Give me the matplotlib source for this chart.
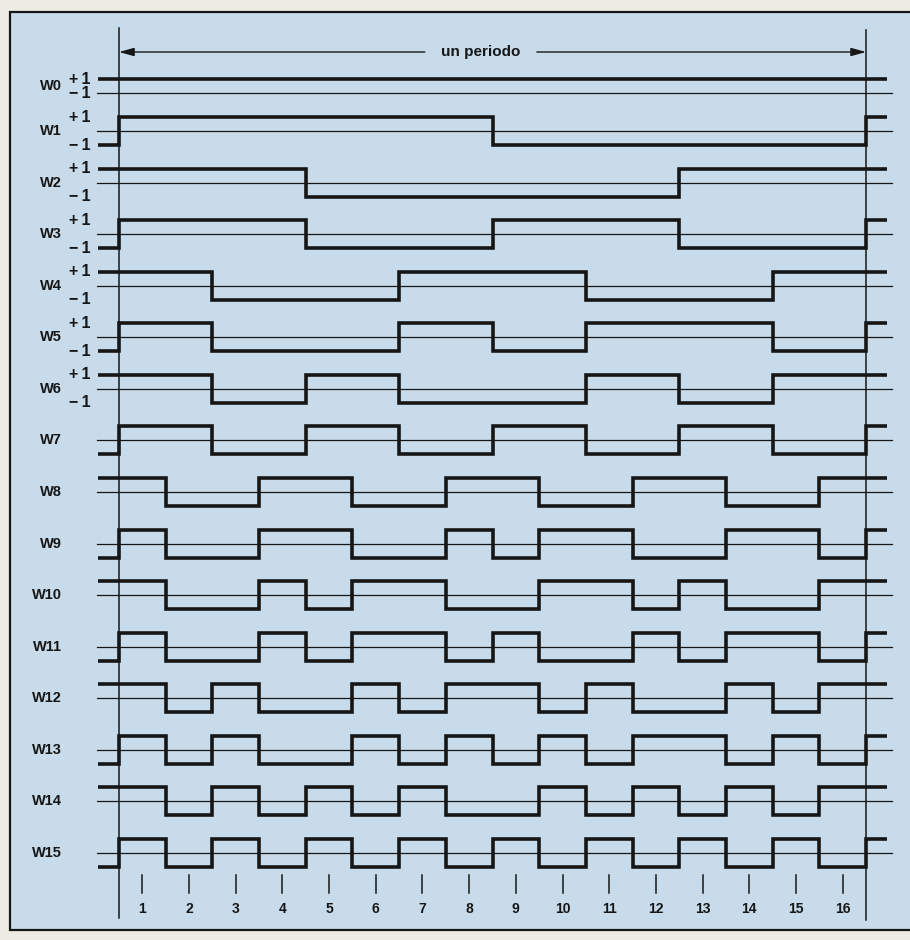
import matplotlib
matplotlib.use("Agg")
import matplotlib.pyplot as plt
from matplotlib.patches import Rectangle

plt.rcParams['font.family'] = ['Liberation Sans', 'DejaVu Sans']

# Walsh functions in sequency order: value (+1/-1) in each of the 16 slots
w0 = [1, 1, 1, 1, 1, 1, 1, 1, 1, 1, 1, 1, 1, 1, 1, 1]
w1 = [1, 1, 1, 1, 1, 1, 1, 1, -1, -1, -1, -1, -1, -1, -1, -1]
w2 = [1, 1, 1, 1, -1, -1, -1, -1, -1, -1, -1, -1, 1, 1, 1, 1]
w3 = [1, 1, 1, 1, -1, -1, -1, -1, 1, 1, 1, 1, -1, -1, -1, -1]
w4 = [1, 1, -1, -1, -1, -1, 1, 1, 1, 1, -1, -1, -1, -1, 1, 1]
w5 = [1, 1, -1, -1, -1, -1, 1, 1, -1, -1, 1, 1, 1, 1, -1, -1]
w6 = [1, 1, -1, -1, 1, 1, -1, -1, -1, -1, 1, 1, -1, -1, 1, 1]
w7 = [1, 1, -1, -1, 1, 1, -1, -1, 1, 1, -1, -1, 1, 1, -1, -1]
w8 = [1, -1, -1, 1, 1, -1, -1, 1, 1, -1, -1, 1, 1, -1, -1, 1]
w9 = [1, -1, -1, 1, 1, -1, -1, 1, -1, 1, 1, -1, -1, 1, 1, -1]
w10 = [1, -1, -1, 1, -1, 1, 1, -1, -1, 1, 1, -1, 1, -1, -1, 1]
w11 = [1, -1, -1, 1, -1, 1, 1, -1, 1, -1, -1, 1, -1, 1, 1, -1]
w12 = [1, -1, 1, -1, -1, 1, -1, 1, 1, -1, 1, -1, -1, 1, -1, 1]
w13 = [1, -1, 1, -1, -1, 1, -1, 1, -1, 1, -1, 1, 1, -1, 1, -1]
w14 = [1, -1, 1, -1, 1, -1, 1, -1, -1, 1, -1, 1, -1, 1, -1, 1]
w15 = [1, -1, 1, -1, 1, -1, 1, -1, 1, -1, 1, -1, 1, -1, 1, -1]

waves = [w0, w1, w2, w3, w4, w5, w6, w7, w8, w9, w10, w11, w12, w13, w14, w15]
names = ["W%d" % i for i in range(16)]
slot_labels = [str(i) for i in range(1, 17)]
period_label = "un periodo"

# layout (pixel geometry of the original)
W, H = 910, 940
px_slot = 46.69      # px per slot
x0_px = 119          # start of the period
px_row = 51.57       # px between rows
row1_px = 131        # zero line of W1
amp = 14 / px_row    # half height of a square wave

row_y = [1 + (93 - row1_px) / px_row] + list(range(1, 16))

ink = "#161616"
bg_in = "#c7dbea"
bg_out = "#eeebe3"

fig = plt.figure(figsize=(W / 100, H / 100), dpi=100, facecolor=bg_out)
ax = fig.add_axes([0, 0, 1, 1])
ax.set_facecolor("none")
ax.set_xlim(-x0_px / px_slot, (W - x0_px) / px_slot)
ax.set_ylim(1 + (H - row1_px) / px_row, 1 - row1_px / px_row)
ax.axis("off")

# blue panel with frame on top, left, bottom
ax.add_patch(Rectangle((10 / W, 10 / H), 1.2, 1 - 22 / H, transform=ax.transAxes,
                       facecolor=bg_in, edgecolor=ink, lw=1.6, zorder=0))

nslot = len(w0)
ext_l, ext_r = 0.46, 0.44
for i, (wv, y0) in enumerate(zip(waves, row_y)):
    # thin zero line
    ax.plot([-0.47, nslot + 0.55], [y0, y0], color=ink, lw=0.9, zorder=2)
    # thick waveform, periodic continuation at both ends
    xs = [-ext_l] + list(range(nslot + 1)) + [nslot + ext_r]
    vals = [wv[-1]] + wv + [wv[0], wv[0]]
    ys = [y0 - v * amp for v in vals]
    ax.plot(xs, ys, drawstyle="steps-post", color=ink, lw=2.6,
            solid_capstyle="butt", solid_joinstyle="miter", zorder=3)
    # row name
    ly = (y0 - amp / 2) if i == 0 else y0
    ax.text(-1.22, ly, names[i], ha="right", va="center", fontsize=10.5,
            fontweight="bold", color=ink)
    # +1 / -1 marks for the first rows
    if i <= 6:
        lo = y0 if i == 0 else y0 + amp
        ax.text(-0.6, y0 - amp, "+\u20091", ha="right", va="center", fontsize=11.5,
                fontweight="bold", color=ink)
        ax.text(-0.6, lo, "\u2212\u20091", ha="right", va="center", fontsize=11.5,
                fontweight="bold", color=ink)

# period boundaries
ax.plot([0, 0], [-1.0, 16.26], color=ink, lw=1.1, zorder=2)
ax.plot([nslot, nslot], [-0.95, 16.3], color=ink, lw=1.1, zorder=2)

# "un periodo" arrow
ya = 1 + (52 - row1_px) / px_row
gap_l, gap_r = 6.55, 8.95
arrow = dict(arrowstyle="-|>,head_length=0.9,head_width=0.25", color=ink, lw=1.0,
             shrinkA=0, shrinkB=0)
ax.annotate("", xy=(0, ya), xytext=(gap_l, ya), arrowprops=arrow)
ax.annotate("", xy=(nslot, ya), xytext=(gap_r, ya), arrowprops=arrow)
ax.text((gap_l + gap_r) / 2, ya, period_label, ha="center", va="center",
        fontsize=11, fontweight="bold", color=ink)

# slot ticks and numbers
yt0 = 1 + (875 - row1_px) / px_row
yt1 = 1 + (893 - row1_px) / px_row
yn = 1 + (909 - row1_px) / px_row
for k, lab in enumerate(slot_labels):
    xc = k + 0.5
    ax.plot([xc, xc], [yt0, yt1], color=ink, lw=1.1)
    ax.text(xc, yn, lab, ha="center", va="center", fontsize=10,
            fontweight="bold", color=ink)

fig.savefig("out.png", dpi=100, facecolor=bg_out)
